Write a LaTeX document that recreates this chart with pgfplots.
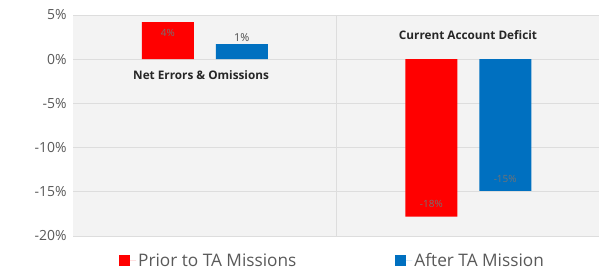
\documentclass[border=0pt]{standalone}
\usepackage{pgfplots}
\pgfplotsset{compat=1.18}
\usepackage{fontspec}
\setmainfont{Open Sans}
\definecolor{tickgray}{HTML}{595959}
\definecolor{gridgray}{HTML}{DDDDDD}
\definecolor{bgcol}{HTML}{F3F3F3}
\definecolor{cred}{HTML}{FF0000}
\definecolor{cblue}{HTML}{0070C0}
\begin{document}
\begin{tikzpicture}[x=1bp,y=1bp]
\useasboundingbox (0,0) rectangle (599,270);
\begin{axis}[
  at={(73bp,34bp)}, anchor=south west,
  scale only axis, width=527bp, height=221bp,
  ybar=22bp, bar width=52bp,
  xmin=-0.5, xmax=1.5, ymin=-20, ymax=5,
  xtick=\empty,
  extra x ticks={0.5}, extra x tick labels={},
  extra x tick style={grid=major, major grid style={gridgray, line width=0.8pt}, major tick length=0pt},
  ytick={-20,-15,-10,-5,0,5},
  yticklabels={-20\%,-15\%,-10\%,-5\%,0\%,5\%},
  yticklabel style={font=\fontsize{14}{16}\selectfont, text=tickgray, xshift=-3bp},
  ymajorgrids, major grid style={gridgray, line width=0.8pt},
  major tick length=0pt,
  axis line style={draw=none},
  axis background/.style={fill=bgcol},
  legend style={at={(0.4924,-0.06)}, anchor=north, draw=none, fill=none,
    legend columns=2, font=\fontsize{17.3}{19}\selectfont, text=tickgray,
    /tikz/every even column/.append style={column sep=97bp}},
  legend image code/.code={\fill[#1] (0bp,-5.5bp) rectangle (11bp,5.5bp);
    \path (0bp,0bp) -- (17bp,0bp);},
]
\addplot[fill=cred, draw=none] coordinates {(0,4.2) (1,-17.8)};
\addlegendentry{Prior to TA Missions}
\addplot[fill=cblue, draw=none] coordinates {(0,1.7) (1,-14.9)};
\addlegendentry{After TA Mission}
\node[font=\fontsize{10}{11}\selectfont, text=black!55] at (axis cs:-0.14,3) {4\%};
\node[font=\fontsize{11}{12}\selectfont, text=black!70, above] at (axis cs:0.14,1.6) {1\%};
\node[font=\fontsize{10}{11}\selectfont, text=black!55] at (axis cs:0.86,-16.4) {-18\%};
\node[font=\fontsize{10}{11}\selectfont, text=black!55] at (axis cs:1.14,-13.5) {-15\%};
\node[font=\bfseries\fontsize{11.8}{13}\selectfont, text=black!85] at (axis cs:-0.014,-1.8) {Net Errors \& Omissions};
\node[font=\bfseries\fontsize{11.8}{13}\selectfont, text=black!85] at (axis cs:0.999,2.7) {Current Account Deficit};
\end{axis}
\end{tikzpicture}
\end{document}
